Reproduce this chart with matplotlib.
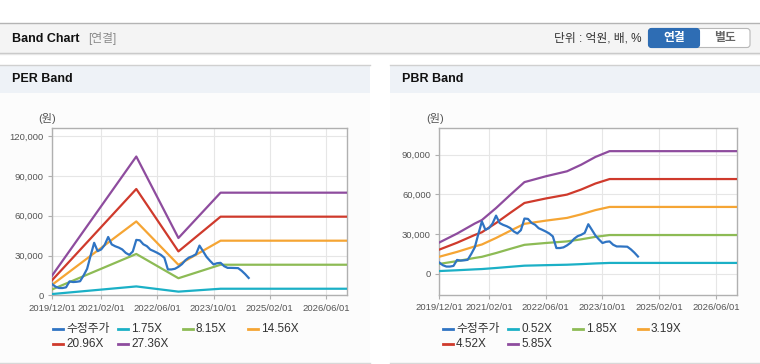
import matplotlib.pyplot as plt
from matplotlib.patches import Rectangle, FancyBboxPatch
from matplotlib.lines import Line2D
from matplotlib.ticker import FuncFormatter

plt.rcParams['font.family'] = ['Liberation Sans', 'Noto Sans CJK KR']

# x axis: months counted from 2019/12
tick_months = [0, 14, 30, 46, 62, 78]
tick_labels = ['2019/12/01', '2021/02/01', '2022/06/01', '2023/10/01', '2025/02/01', '2026/06/01']

# adjusted close (수정주가), monthly, 2019/12 .. 2024/08
price_months = list(range(57))
price = [8500, 6500, 5500, 5500, 6000, 10500, 10000, 10200, 10600, 15000,
         20000, 30000, 39600, 33300, 34600, 38000, 44000, 38400, 37000, 36000,
         34600, 32000, 30500, 33000, 41800, 41500, 38500, 37100, 34500, 33300,
         32000, 30500, 28300, 19500, 19500, 20000, 21500, 23500, 26500, 28500,
         29500, 31000, 37500, 33300, 29000, 26000, 23300, 24200, 24500, 22000,
         20700, 20700, 20600, 20500, 18500, 16000, 13100]

# PER band base (EPS)
eps_months = [0, 24, 36, 48, 84]
eps = [540, 3827, 1580, 2830, 2830]
per_multiples = [1.75, 8.15, 14.56, 20.96, 27.36]
per_labels = ['1.75X', '8.15X', '14.56X', '20.96X', '27.36X']

# PBR band base (BPS)
bps_months = [0, 5, 10, 12, 16, 20, 24, 30, 36, 40, 44, 48, 84]
bps = [4050, 5200, 6500, 6950, 8500, 10200, 11850, 12600, 13250, 14100, 15100, 15850, 15850]
pbr_multiples = [0.52, 1.85, 3.19, 4.52, 5.85]
pbr_labels = ['0.52X', '1.85X', '3.19X', '4.52X', '5.85X']

price_label = '수정주가'
price_color = '#2f74c3'
band_colors = ['#1bb0c6', '#8dbb55', '#f5a534', '#cf3a2c', '#8e4c9e']

W, H = 760, 364
fig = plt.figure(figsize=(W / 100, H / 100), dpi=100)
fig.patch.set_facecolor('white')

# page chrome in pixel coordinates
bg = fig.add_axes([0, 0, 1, 1])
bg.set_xlim(0, W)
bg.set_ylim(H, 0)
bg.axis('off')

bg.add_patch(Rectangle((0, 22.5), W, 30.5, fc='#f4f4f4', ec='none'))
bg.plot([0, W], [22.5, 22.5], color='#b4b4b4', lw=1)
bg.plot([0, W], [53, 53], color='#c4c4c4', lw=1)
bg.plot([0, W], [54.2, 54.2], color='#e6e6e6', lw=1)
bg.text(12, 38.5, 'Band Chart', fontsize=9, fontweight='bold', va='center', color='#111')
bg.text(88, 38.5, '[연결]', fontsize=8.5, va='center', color='#8a8a8a')
bg.text(642, 38.5, '단위 : 억원, 배, %', fontsize=8.5, va='center', ha='right', color='#333')
bg.add_patch(FancyBboxPatch((648.5, 28.5), 101.5, 19, boxstyle='round,pad=0,rounding_size=3',
                            fc='white', ec='#b8b8b8', lw=0.8))
bg.add_patch(FancyBboxPatch((648.5, 28.5), 51, 19, boxstyle='round,pad=0,rounding_size=3',
                            fc='#2e6db4', ec='#2e6db4', lw=0.8))
bg.text(674, 38.5, '연결', fontsize=8.5, fontweight='bold', va='center', ha='center', color='white')
bg.text(725, 38.5, '별도', fontsize=8.5, fontweight='bold', va='center', ha='center', color='#666')

for x0, title in [(0, 'PER Band'), (390, 'PBR Band')]:
    bg.add_patch(Rectangle((x0, 64.5), 370, 28.5, fc='#eef2f7', ec='none'))
    bg.add_patch(Rectangle((x0, 93), 370, 269.5, fc='#fcfcfc', ec='none'))
    bg.plot([x0, x0 + 370], [64.5, 64.5], color='#d0d0d0', lw=1)
    bg.plot([x0, x0 + 370], [362.5, 362.5], color='#d8d8d8', lw=1)
    bg.text(x0 + 12, 79, title, fontsize=9, fontweight='bold', va='center', color='#111')


def band_panel(rect, base_m, base, mults, names, ylim, yticks, unit_x, leg_x):
    ax = fig.add_axes(rect)
    ax.set_facecolor('white')
    for mult, col in zip(mults, band_colors):
        ax.plot(base_m, [mult * b for b in base], color=col, lw=1.6, zorder=3)
    ax.plot(price_months, price, color=price_color, lw=1.6, zorder=4)
    ax.set_xlim(0, 84)
    ax.set_ylim(*ylim)
    ax.set_xticks(tick_months)
    ax.set_xticklabels(tick_labels)
    ax.set_yticks(yticks)
    ax.yaxis.set_major_formatter(FuncFormatter(lambda v, p: f'{int(v):,}'))
    ax.grid(True, color='#e6e6e6', lw=0.8, zorder=0)
    ax.set_axisbelow(True)
    for s in ax.spines.values():
        s.set_color('#b0b0b0')
        s.set_linewidth(1)
    ax.tick_params(length=3, width=0.8, color='#b0b0b0', labelcolor='#555',
                   labelsize=6.8, pad=3)

    bg.text(unit_x, 118, '(원)', fontsize=8, ha='center', va='center', color='#555')

    entries = [(price_label, price_color)] + list(zip(names, band_colors))
    for i, (lab, col) in enumerate(entries):
        lx = leg_x + (i % 4) * 65
        ly = 329 if i < 4 else 344
        bg.add_line(Line2D([lx, lx + 10], [ly, ly], color=col, lw=2))
        bg.text(lx + 13, ly, lab, fontsize=8.5, va='center', color='#333')
    return ax


band_panel([52 / W, 1 - 295.3 / H, 295 / W, 167 / H], eps_months, eps, per_multiples,
           per_labels, (0, 126000), [0, 30000, 60000, 90000, 120000], 47, 53)
band_panel([439.3 / W, 1 - 295 / H, 298 / W, 166.7 / H], bps_months, bps, pbr_multiples,
           pbr_labels, (-16000, 110000), [0, 30000, 60000, 90000], 435, 443)

fig.savefig('out.png', dpi=100, facecolor='white')
